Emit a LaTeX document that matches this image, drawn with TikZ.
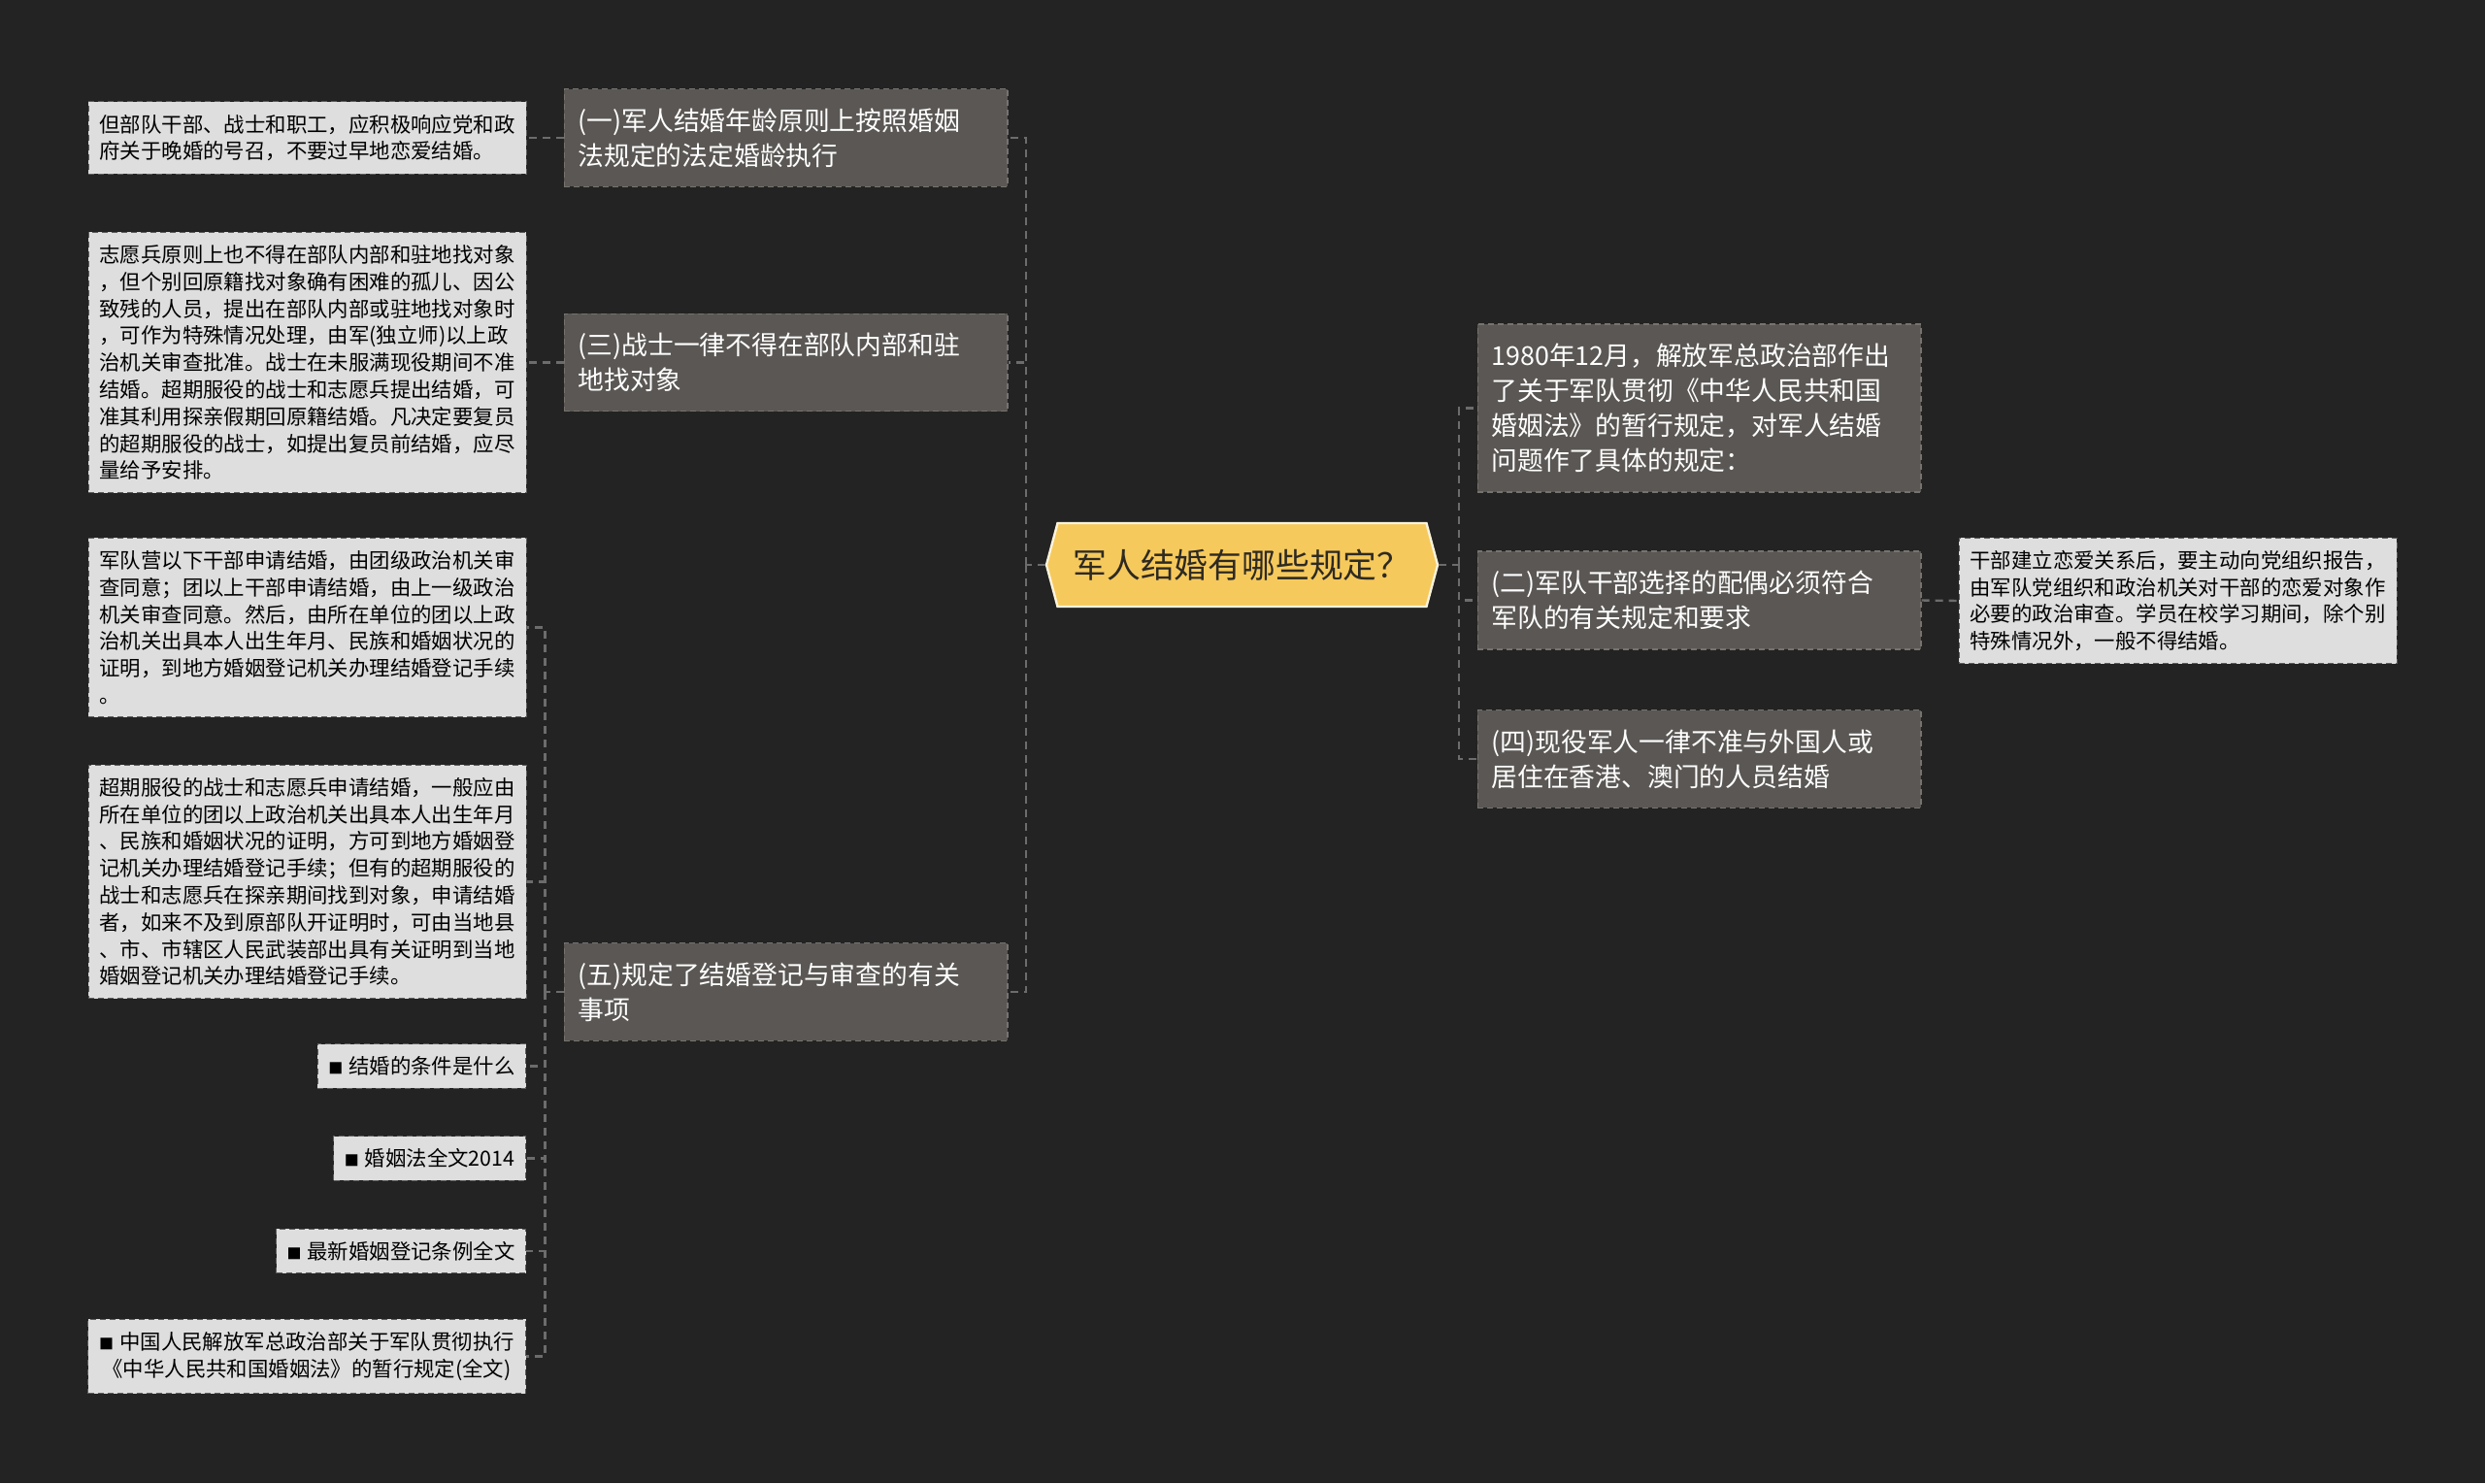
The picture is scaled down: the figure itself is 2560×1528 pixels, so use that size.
\documentclass[tikz,border=0pt]{standalone}
\usepackage{fontspec}
\setmainfont{Noto Sans CJK SC}
\usepackage{tikz}
\usetikzlibrary{shapes.symbols, calc}

\definecolor{bgdark}{HTML}{232323}
\definecolor{rootyellow}{HTML}{F6C95C}
\definecolor{rootedge}{HTML}{FBF3DC}
\definecolor{roottext}{HTML}{2E2A22}
\definecolor{topicgray}{HTML}{5A5754}
\definecolor{topicedge}{HTML}{76736F}
\definecolor{notegray}{HTML}{DEDEDE}
\definecolor{noteedge}{HTML}{5E5E5E}
\definecolor{linkgray}{HTML}{6C6C6C}

\newcommand{\sqmark}{{\fontsize{7.5pt}{7.5pt}\selectfont ■}\hspace{3pt}}

\begin{document}
\begin{tikzpicture}[x=0.5pt, y=-0.5pt,
  link/.style={draw=linkgray, line width=1.2pt, dash pattern=on 4pt off 3pt},
  rootbox/.style={signal, signal to=east and west, signal pointer angle=150,
    fill=rootyellow, draw=rootedge, line width=1.2pt,
    minimum width=201.5pt, minimum height=43pt, text=roottext,
    font=\fontsize{17.4pt}{21pt}\selectfont},
  topic/.style={rectangle, fill=topicgray, draw=topicedge, densely dashed,
    line width=0.6pt, text=white, align=left, text width=214pt,
    inner xsep=7.2pt, inner ysep=10pt,
    font=\fontsize{13.4pt}{18pt}\selectfont},
  note/.style={rectangle, fill=notegray, draw=noteedge, densely dashed,
    line width=0.5pt, text=black, align=left, text width=214pt,
    inner xsep=5.75pt, inner ysep=6.5pt,
    font=\fontsize{10.7pt}{13.9pt}\selectfont},
  tag/.style={rectangle, fill=notegray, draw=noteedge, densely dashed,
    line width=0.5pt, text=black, anchor=east,
    inner xsep=5.5pt, inner ysep=6.5pt,
    font=\fontsize{10.7pt}{13.9pt}\selectfont}
]

  % --- Background ---
  \fill[bgdark] (0,0) rectangle (2560,1528);
  \useasboundingbox (0,0) rectangle (2560,1528);

  % --- Root ---
  \node[rootbox] (root) at (1279.5,582) {军人结婚有哪些规定？};

  % --- Left topics ---
  \node[topic] (b1) at (809.5,142)
    {(一)军人结婚年龄原则上按照婚姻\\法规定的法定婚龄执行};
  \node[topic] (b3) at (809.5,373.5)
    {(三)战士一律不得在部队内部和驻\\地找对象};
  \node[topic] (b5) at (809.5,1022)
    {(五)规定了结婚登记与审查的有关\\事项};

  % --- Right topics ---
  \node[topic] (intro) at (1750.5,420.5)
    {1980年12月，解放军总政治部作出\\了关于军队贯彻《中华人民共和国\\婚姻法》的暂行规定，对军人结婚\\问题作了具体的规定：};
  \node[topic] (b2) at (1750.5,618.5)
    {(二)军队干部选择的配偶必须符合\\军队的有关规定和要求};
  \node[topic] (b4) at (1750.5,782)
    {(四)现役军人一律不准与外国人或\\居住在香港、澳门的人员结婚};

  % --- Notes ---
  \node[note] (n1) at (316.5,142)
    {但部队干部、战士和职工，应积极响应党和政\\府关于晚婚的号召，不要过早地恋爱结婚。};
  \node[note] (n3) at (316.5,373.5)
    {志愿兵原则上也不得在部队内部和驻地找对象\\，但个别回原籍找对象确有困难的孤儿、因公\\致残的人员，提出在部队内部或驻地找对象时\\，可作为特殊情况处理，由军(独立师)以上政\\治机关审查批准。战士在未服满现役期间不准\\结婚。超期服役的战士和志愿兵提出结婚，可\\准其利用探亲假期回原籍结婚。凡决定要复员\\的超期服役的战士，如提出复员前结婚，应尽\\量给予安排。};
  \node[note] (n5a) at (316.5,646.5)
    {军队营以下干部申请结婚，由团级政治机关审\\查同意；团以上干部申请结婚，由上一级政治\\机关审查同意。然后，由所在单位的团以上政\\治机关出具本人出生年月、民族和婚姻状况的\\证明，到地方婚姻登记机关办理结婚登记手续\\。};
  \node[note] (n5b) at (316.5,908.5)
    {超期服役的战士和志愿兵申请结婚，一般应由\\所在单位的团以上政治机关出具本人出生年月\\、民族和婚姻状况的证明，方可到地方婚姻登\\记机关办理结婚登记手续；但有的超期服役的\\战士和志愿兵在探亲期间找到对象，申请结婚\\者，如来不及到原部队开证明时，可由当地县\\、市、市辖区人民武装部出具有关证明到当地\\婚姻登记机关办理结婚登记手续。};
  \node[note] (r2) at (2243.5,619)
    {干部建立恋爱关系后，要主动向党组织报告，\\由军队党组织和政治机关对干部的恋爱对象作\\必要的政治审查。学员在校学习期间，除个别\\特殊情况外，一般不得结婚。};

  % --- Links ---
  \node[tag] (t1) at (542,1098.5) {\sqmark 结婚的条件是什么};
  \node[tag] (t2) at (542,1193.5) {\sqmark 婚姻法全文2014};
  \node[tag] (t3) at (542,1289) {\sqmark 最新婚姻登记条例全文};
  \node[tag, align=center, minimum width=225.5pt] (t4) at (542,1397.5)
    {\sqmark 中国人民解放军总政治部关于军队贯彻执行\\《中华人民共和国婚姻法》的暂行规定(全文)};

  % --- Connectors ---
  \coordinate (lbus) at ($(root.west)+(-20,0)$);
  \coordinate (rbus) at ($(root.east)+(21,0)$);
  \coordinate (b5bus) at ($(b5.west)+(-19,0)$);

  \draw[link] (root.west) -- (lbus);
  \foreach \n in {b1,b3,b5}
    \draw[link] (lbus) |- (\n.east);

  \draw[link] (root.east) -- (rbus);
  \foreach \n in {intro,b2,b4}
    \draw[link] (rbus) |- (\n.west);

  \draw[link] (b1.west) -- (n1.east);
  \draw[link] (b3.west) -- (n3.east);
  \draw[link] (b2.east) -- (r2.west);

  \draw[link] (b5.west) -- (b5bus);
  \foreach \n in {n5a,n5b,t1,t2,t3,t4}
    \draw[link] (b5bus) |- (\n.east);

\end{tikzpicture}
\end{document}
